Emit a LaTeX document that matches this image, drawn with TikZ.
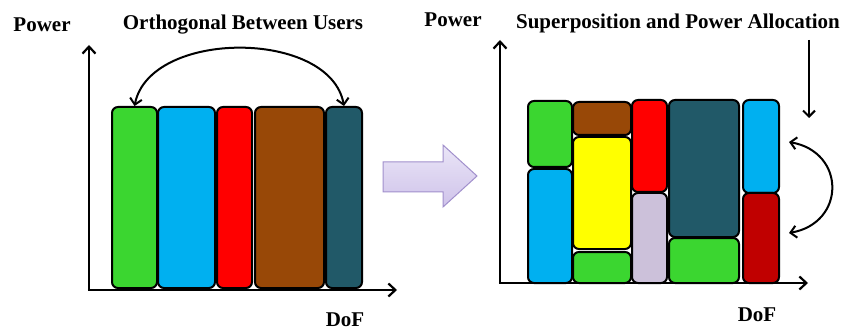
\documentclass[tikz,border=0pt]{standalone}
\usepackage{fontspec}
\setmainfont{Liberation Serif}
\usetikzlibrary{arrows.meta}
\definecolor{cgreen}{HTML}{3BD630}
\definecolor{cblue}{HTML}{00B0F0}
\definecolor{cred}{HTML}{FF0000}
\definecolor{cbrown}{HTML}{984807}
\definecolor{cteal}{HTML}{215968}
\definecolor{cyellow}{HTML}{FFFF00}
\definecolor{clav}{HTML}{CCC1DA}
\definecolor{cdred}{HTML}{C00000}
\definecolor{aborder}{HTML}{A190CC}
\definecolor{atop}{HTML}{EAE5F7}
\definecolor{abot}{HTML}{CFC3EA}
\begin{document}
\begin{tikzpicture}[x=1pt,y=-1pt,
  blk/.style={draw=black, line width=2pt, rounded corners=6pt, inner sep=0pt},
  lbl/.style={font=\bfseries\fontsize{21}{24}\selectfont, inner sep=0pt},
  axis/.style={line width=2.4pt, -{Straight Barb[length=7pt,width=13pt,line width=2.2pt]}},
  curv/.style={line width=2pt, {Straight Barb[length=6pt,width=12pt,line width=2pt]}-{Straight Barb[length=6pt,width=12pt,line width=2pt]}}
]
\useasboundingbox[fill=white] (0,0) rectangle (843,331);

% ---------- left panel ----------
\coordinate (o1) at (89,290);
\coordinate (y1) at (89,45);
\coordinate (x1) at (397,290);

\node[blk, fill=cgreen, minimum width=45pt, minimum height=181pt] (lg) at (134.5,197.5) {};
\node[blk, fill=cblue, minimum width=57pt, minimum height=181pt] (lb) at (186.5,197.5) {};
\node[blk, fill=cred, minimum width=35pt, minimum height=181pt] (lr) at (234.5,197.5) {};
\node[blk, fill=cbrown, minimum width=69pt, minimum height=181pt] (lbr) at (289.5,197.5) {};
\node[blk, fill=cteal, minimum width=36pt, minimum height=181pt] (lt) at (344,197.5) {};

\draw[axis] (o1) -- (y1);
\draw[axis] ([xshift=-1.2pt]o1) -- (x1);

\draw[curv] (lg.north) .. controls (150,29) and (330,29) .. (lt.north);

\node[lbl] (p1) at (42,25) {Power};
\node[lbl] (t1) at (243,25) {Orthogonal Between Users};
\node[lbl] (d1) at (345,320) {DoF};

% ---------- block arrow ----------
\shade[top color=atop, bottom color=abot, draw=aborder, line width=1pt]
  (383,162) -- (443,162) -- (443,145) -- (477,176) -- (443,207) -- (443,192) -- (383,192) -- cycle;

% ---------- right panel ----------
\coordinate (o2) at (500,283);
\coordinate (y2) at (500,40);
\coordinate (x2) at (808,283);

\node[blk, fill=cgreen, minimum width=44pt, minimum height=66pt] (rg1) at (550,134) {};
\node[blk, fill=cblue, minimum width=44pt, minimum height=114pt] (rb1) at (550,226) {};
\node[blk, fill=cbrown, minimum width=58pt, minimum height=33pt] (rbr) at (602,118.5) {};
\node[blk, fill=cyellow, minimum width=58pt, minimum height=112pt] (ry) at (602,193) {};
\node[blk, fill=cgreen, minimum width=58pt, minimum height=31pt] (rg2) at (602,267.5) {};
\node[blk, fill=cred, minimum width=35pt, minimum height=92pt] (rr) at (649.5,146) {};
\node[blk, fill=clav, minimum width=35pt, minimum height=90pt] (rl) at (649.5,238) {};
\node[blk, fill=cteal, minimum width=70pt, minimum height=137pt] (rt) at (704,168.5) {};
\node[blk, fill=cgreen, minimum width=70pt, minimum height=45pt] (rg3) at (704,260.5) {};
\node[blk, fill=cblue, minimum width=36pt, minimum height=93pt] (rb2) at (761,146.5) {};
\node[blk, fill=cdred, minimum width=36pt, minimum height=90pt] (rdr) at (761,238) {};

\draw[axis] (o2) -- (y2);
\draw[axis] ([xshift=-1.2pt]o2) -- (x2);

\coordinate (da1) at (809,40);
\coordinate (da2) at (809,118);
\draw[line width=2pt, -{Straight Barb[length=6pt,width=12pt,line width=2pt]}] (da1) -- (da2);

\coordinate (ca1) at (789,142);
\coordinate (ca2) at (789,233);
\draw[curv] (ca1) .. controls (846,152) and (846,223) .. (ca2);

\node[lbl] (p2) at (453,20) {Power};
\node[lbl] (t2) at (678,23) {Superposition and Power Allocation};
\node[lbl] (d2) at (757,315) {DoF};
\end{tikzpicture}
\end{document}
